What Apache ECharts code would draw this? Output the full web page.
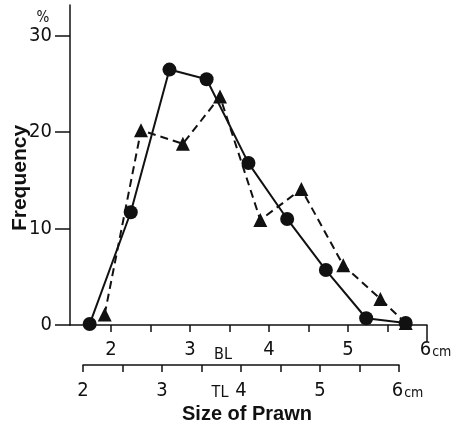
<!DOCTYPE html>
<html>
<head>
<meta charset="utf-8">
<script src="https://cdn.jsdelivr.net/npm/echarts@6/dist/echarts.min.js"></script>
<style>
  html, body { margin: 0; padding: 0; background: #fff; }
  #chart { width: 460px; height: 428px; }
</style>
</head>
<body>
<div id="chart"></div>
<script>
// body length (BL, cm) and frequency (%)
var circleX = [1.73, 2.25, 2.74, 3.21, 3.74, 4.23, 4.72, 5.23, 5.73];
var circleY = [0.1, 11.7, 26.5, 25.5, 16.8, 11.0, 5.7, 0.7, 0.2];
var triangleX = [1.92, 2.38, 2.91, 3.38, 3.89, 4.41, 4.94, 5.41, 5.73];
var triangleY = [1.1, 20.2, 18.8, 23.7, 10.9, 14.1, 6.2, 2.7, 0.2];

var freqTicks = [0, 10, 20, 30];
var blTicks = [2, 2.5, 3, 3.5, 4, 4.5, 5, 5.5];
var blLabels = [2, 3, 4, 5, 6];

var narrow = "'DejaVu Sans Condensed', 'DejaVu Sans', sans-serif";
var ink = '#111';

function pairs(xs, ys) {
    var out = [];
    for (var i = 0; i < xs.length; i++) out.push([xs[i], ys[i]]);
    return out;
}

function cmLabel(v) {
    if (v === 6) return '{s|}{n|6}{u|cm}';
    if (v % 1 !== 0) return '';
    return '{n|' + v + '}';
}

var labelRich = {
    s: { width: 17 },
    n: { fontFamily: narrow, fontSize: 20, color: ink },
    u: { fontFamily: narrow, fontSize: 14, color: ink, verticalAlign: 'bottom', padding: [0, 0, 1, 1] }
};

var chart = echarts.init(document.getElementById('chart'));

var option = {
    backgroundColor: '#fff',
    animation: false,
    grid: [
        { left: 70, right: 33, top: 5, bottom: 103 },
        { left: 83, width: 316, top: 364, height: 1 }
    ],
    xAxis: [
        {
            type: 'value', gridIndex: 0, min: 1.481, max: 6.0,
            splitLine: { show: false },
            axisLine: { lineStyle: { color: ink, width: 1.5 } },
            axisTick: { customValues: blTicks, length: 7, lineStyle: { color: ink, width: 1.5 } },
            axisLabel: { customValues: blLabels, margin: 15, formatter: cmLabel, rich: labelRich }
        },
        {
            type: 'value', gridIndex: 1, min: 2, max: 6, interval: 0.5,
            splitLine: { show: false },
            axisLine: { lineStyle: { color: ink, width: 1.5 } },
            axisTick: { length: 7, lineStyle: { color: ink, width: 1.5 } },
            axisLabel: { margin: 16, formatter: cmLabel, rich: labelRich, showMinLabel: true, showMaxLabel: true }
        },
        {
            // the longer end tick at 6 cm on the BL scale
            type: 'value', gridIndex: 0, position: 'bottom', offset: 0, min: 1.481, max: 6.0,
            splitLine: { show: false },
            axisLine: { show: false },
            axisTick: { customValues: [6], length: 17, lineStyle: { color: ink, width: 1.5 } },
            axisLabel: { show: false }
        }
    ],
    yAxis: [
        {
            type: 'value', gridIndex: 0, min: 0, max: 33.2,
            splitLine: { show: false },
            axisLine: { lineStyle: { color: ink, width: 1.5 } },
            axisTick: { customValues: freqTicks, length: 15, lineStyle: { color: ink, width: 1.5 } },
            axisLabel: { customValues: freqTicks, margin: 18, fontFamily: narrow, fontSize: 20, color: ink }
        },
        {
            type: 'value', gridIndex: 1, min: 0, max: 1, show: false
        }
    ],
    graphic: [
        {
            type: 'text', x: 20, y: 178, rotation: Math.PI / 2,
            style: { text: 'Frequency', font: "bold 21px 'Liberation Sans', Arial, sans-serif", fill: ink, align: 'center', verticalAlign: 'middle' }
        },
        {
            type: 'text', x: 43, y: 18,
            style: { text: '%', font: "15px " + narrow, fill: ink, align: 'center', verticalAlign: 'middle' }
        },
        {
            type: 'text', x: 223, y: 355,
            style: { text: 'BL', font: "16px " + narrow, fill: ink, align: 'center', verticalAlign: 'middle' }
        },
        {
            type: 'text', x: 220, y: 393,
            style: { text: 'TL', font: "16px " + narrow, fill: ink, align: 'center', verticalAlign: 'middle' }
        },
        {
            type: 'text', x: 247, y: 414,
            style: { text: 'Size of Prawn', font: "bold 20px 'Liberation Sans', Arial, sans-serif", fill: ink, align: 'center', verticalAlign: 'middle' }
        }
    ],
    series: [
        {
            type: 'line', xAxisIndex: 0, yAxisIndex: 0,
            data: pairs(triangleX, triangleY),
            symbol: 'triangle', symbolSize: 14,
            lineStyle: { color: ink, width: 2, type: [8, 5] },
            itemStyle: { color: ink }
        },
        {
            type: 'line', xAxisIndex: 0, yAxisIndex: 0,
            data: pairs(circleX, circleY),
            symbol: 'circle', symbolSize: 14,
            lineStyle: { color: ink, width: 2 },
            itemStyle: { color: ink }
        }
    ]
};

chart.setOption(option);
</script>
</body>
</html>
